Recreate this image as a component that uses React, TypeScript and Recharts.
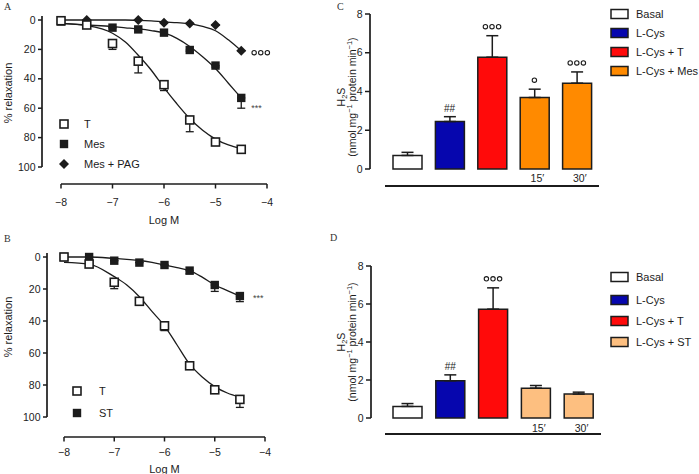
import React from "react";
import {
  ComposedChart,
  Line,
  Scatter,
  Bar,
  XAxis,
  YAxis,
  ErrorBar,
  Cell,
  Customized,
} from "recharts";

const INK = "#1c1c1c";
const SANS = "'Liberation Sans', Arial, sans-serif";
const SERIF = "'Liberation Serif', 'Times New Roman', serif";

// concentration-response (panels A and B)
const LOG_M = [-8, -7.5, -7, -6.5, -6, -5.5, -5, -4.5];
const FIT_X = [-8, -7.5, -7, -6.75, -6.5, -6.25, -6, -5.75, -5.5, -5.25, -5, -4.75, -4.5];
const X_TICKS = [-8, -7, -6, -5, -4];
const Y_TICKS = [0, 20, 40, 60, 80, 100];

const A_T = [0.5, 3.4, 16, 28, 44, 68, 83, 88];
const A_T_ERR = [0, 0, 4, 8, 4, 8, 2, 0];
const A_MES = [1, 3, 5.2, 6.4, 8.6, 20.4, 31, 53];
const A_MES_ERR = [0, 0, 0, 0, 0, 1, 1, 7];
const A_PAG = [null, 0, null, 0, 1.8, 2.3, 3.4, 20.9];
const A_T_FIT = [2.3, 3.8, 9, 15, 24, 34, 46, 57, 67, 75, 81, 85, 87.5];
const A_MES_FIT = [2.3, 3.4, 4.5, 5.3, 6.1, 7.2, 8.8, 12.5, 18, 25, 33, 43, 53];
const A_PAG_FIT = [0, 0, 0, 0, 0.2, 0.6, 1.3, 1.8, 2.5, 4.4, 7.3, 13.5, 21];

const B_T = [0, 4.4, 15.8, 27.7, 43, 68, 83, 89];
const B_T_ERR = [0, 0, 4, 0, 3, 1, 2, 5];
const B_ST = [0, 0, 2.3, 3.5, 5, 8.5, 17.5, 24.4];
const B_ST_ERR = [0, 0, 0, 0, 0, 2, 4, 3.5];
const B_T_FIT = [3.3, 4.4, 12.3, 17.5, 24.8, 34, 43, 55, 67, 75, 81, 85, 87.5];
const B_ST_FIT = [0, 0, 0.9, 1.5, 2.2, 3.4, 5, 6.6, 8.5, 12.6, 17.5, 21, 24.4];

// H2S production (panels C and D)
const BAR_KEYS = ["basal", "lcys", "lcysT", "drug15", "drug30"];
const BAR_TICKS = ["", "", "", "15\u2032", "30\u2032"];
const BAR_Y_TICKS = [0, 2, 4, 6, 8];

const C_VALUES = [0.7, 2.45, 5.77, 3.69, 4.43];
const C_ERR = [0.16, 0.25, 1.11, 0.43, 0.58];
const C_NOTES = ["", "##", "ooo", "o", "ooo"];
const C_COLORS = ["#ffffff", "#0606ae", "#ff0a0a", "#ff8a00", "#ff8a00"];
const C_LEGEND = ["Basal", "L-Cys", "L-Cys + T", "L-Cys + Mes"];

const D_VALUES = [0.61, 1.96, 5.73, 1.57, 1.26];
const D_ERR = [0.15, 0.31, 1.12, 0.14, 0.1];
const D_NOTES = ["", "##", "ooo", "", ""];
const D_COLORS = ["#ffffff", "#0606ae", "#ff0a0a", "#fdbf80", "#fdbf80"];
const D_LEGEND = ["Basal", "L-Cys", "L-Cys + T", "L-Cys + ST"];

type Geo = {
  w: number; h: number; left: number; top: number;
  px0: number; px1: number; py0: number; py1: number;
  yAxisX: number; xAxisY: number; xLabelY: number; titleY: number; yTitleY: number;
  tickLen: number; letter: string; letterX: number; letterY: number;
};

const GEO_A: Geo = {
  w: 300, h: 232, left: 0, top: 0, px0: 61, px1: 267, py0: 20, py1: 167,
  yAxisX: 42, xAxisY: 184, xLabelY: 202, titleY: 220, yTitleY: 93,
  tickLen: 4, letter: "A", letterX: 4, letterY: 10,
};
const GEO_B: Geo = {
  w: 300, h: 242, left: 0, top: 232, px0: 64, px1: 265, py0: 25, py1: 185,
  yAxisX: 47, xAxisY: 205, xLabelY: 220, titleY: 237, yTitleY: 95,
  tickLen: 4, letter: "B", letterX: 4, letterY: 10,
};
const GEO_C: Geo = {
  w: 399, h: 232, left: 300, top: 0, px0: 86, px1: 298, py0: 14, py1: 169,
  yAxisX: 70, xAxisY: 186, xLabelY: 178, titleY: 0, yTitleY: 97,
  tickLen: 5, letter: "C", letterX: 37, letterY: 10,
};
const GEO_D: Geo = {
  w: 399, h: 242, left: 300, top: 232, px0: 86, px1: 300, py0: 34, py1: 186,
  yAxisX: 71, xAxisY: 202, xLabelY: 196, titleY: 0, yTitleY: 110,
  tickLen: 5, letter: "D", letterX: 30, letterY: 9,
};

type Pt = { x: number; y: number; err: [number, number] };

function toPoints(xs: number[], ys: (number | null)[], errs?: number[]): Pt[] {
  const out: Pt[] = [];
  xs.forEach((x, i) => {
    const y = ys[i];
    if (y == null) return;
    out.push({ x, y, err: [0, errs ? errs[i] : 0] });
  });
  return out;
}

function OpenSquare({ cx, cy }: any) {
  return <rect x={cx - 4} y={cy - 4} width={8} height={8} fill="#fff" stroke={INK} strokeWidth={1.6} />;
}
function FilledSquare({ cx, cy }: any) {
  return <rect x={cx - 4.2} y={cy - 4.2} width={8.4} height={8.4} fill={INK} />;
}
function Diamond({ cx, cy }: any) {
  return <path d={`M${cx},${cy - 5}L${cx + 5},${cy}L${cx},${cy + 5}L${cx - 5},${cy}Z`} fill={INK} />;
}

function Circles({ cx, cy, n }: { cx: number; cy: number; n: number }) {
  return (
    <g>
      {Array.from({ length: n }, (_, i) => (
        <circle key={i} cx={cx + (i - (n - 1) / 2) * 6.6} cy={cy} r={2.2} fill="none" stroke={INK} strokeWidth={1.1} />
      ))}
    </g>
  );
}

function YTick({ y, payload, geo }: any) {
  return (
    <g>
      <line x1={geo.yAxisX - geo.tickLen} x2={geo.yAxisX} y1={y} y2={y} stroke={INK} strokeWidth={1.5} />
      <text x={geo.yAxisX - geo.tickLen - 2.5} y={y} dy="0.35em" textAnchor="end" fontSize={10.5} fontFamily={SANS} fill={INK}>
        {payload.value}
      </text>
    </g>
  );
}

function XTick({ x, payload, geo }: any) {
  const v = Number(payload.value);
  return (
    <g>
      <line x1={x} x2={x} y1={geo.xAxisY} y2={geo.xAxisY + 4.5} stroke={INK} strokeWidth={1.5} />
      <text x={x} y={geo.xLabelY} dy="0.35em" textAnchor="middle" fontSize={10.5} fontFamily={SANS} fill={INK}>
        {v < 0 ? `\u2212${-v}` : v}
      </text>
    </g>
  );
}

type CurveSeries = {
  name: string;
  ys: (number | null)[];
  errs?: number[];
  fit: number[];
  Marker: (p: any) => React.ReactElement;
};

function CurveDecor({ geo, series, legendX, textX, legendYs }: any) {
  return (
    <g>
      <line x1={geo.yAxisX} x2={geo.yAxisX} y1={geo.py0 - 4} y2={geo.py1} stroke={INK} strokeWidth={1.7} />
      <line x1={geo.px0} x2={geo.px1} y1={geo.xAxisY} y2={geo.xAxisY} stroke={INK} strokeWidth={1.7} />
      <text x={(geo.px0 + geo.px1) / 2} y={geo.titleY} dy="0.35em" textAnchor="middle" fontSize={11} fontFamily={SANS} fill={INK}>
        Log M
      </text>
      <text transform={`translate(8, ${geo.yTitleY}) rotate(-90)`} dy="0.35em" textAnchor="middle" fontSize={11} fontFamily={SANS} fill={INK}>
        % relaxation
      </text>
      <text x={geo.letterX} y={geo.letterY} fontSize={10} fontFamily={SERIF} fill="#333">{geo.letter}</text>
      {series.map((s: CurveSeries, i: number) => (
        <g key={s.name}>
          <s.Marker cx={legendX} cy={legendYs[i]} />
          <text x={textX} y={legendYs[i]} dy="0.35em" fontSize={11} fontFamily={SANS} fill={INK}>{s.name}</text>
        </g>
      ))}
    </g>
  );
}

function CurvePanel({ geo, series, notes, legendX, textX, legendYs }: any) {
  return (
    <div style={{ position: "absolute", left: geo.left, top: geo.top }}>
      <ComposedChart
        width={geo.w}
        height={geo.h}
        margin={{ top: geo.py0, right: geo.w - geo.px1, bottom: 0, left: 0 }}
      >
        <XAxis
          type="number"
          dataKey="x"
          domain={[-8, -4]}
          ticks={X_TICKS}
          axisLine={false}
          tickLine={false}
          height={geo.h - geo.py1}
          tick={<XTick geo={geo} />}
        />
        <YAxis
          type="number"
          dataKey="y"
          domain={[0, 100]}
          reversed
          ticks={Y_TICKS}
          axisLine={false}
          tickLine={false}
          width={geo.px0}
          tick={<YTick geo={geo} />}
        />
        {series.map((s: CurveSeries) => (
          <Line
            key={`fit-${s.name}`}
            data={FIT_X.map((x, i) => ({ x, y: s.fit[i] }))}
            dataKey="y"
            type="monotone"
            stroke={INK}
            strokeWidth={1.3}
            dot={false}
            activeDot={false}
            isAnimationActive={false}
          />
        ))}
        {[...series].reverse().map((s: CurveSeries) => (
          <Scatter
            key={`pts-${s.name}`}
            data={toPoints(LOG_M, s.ys, s.errs)}
            dataKey="y"
            shape={(p: any) => <s.Marker cx={p.cx} cy={p.cy} />}
            isAnimationActive={false}
          >
            <ErrorBar dataKey="err" direction="y" width={4} stroke={INK} strokeWidth={1.3} />
          </Scatter>
        ))}
        {notes.map((n: any, i: number) => (
          <Scatter
            key={`note-${i}`}
            data={[{ x: n.x, y: n.y }]}
            dataKey="y"
            isAnimationActive={false}
            shape={(p: any) =>
              n.text === "ooo" ? (
                <Circles cx={p.cx + 19.5} cy={p.cy + 2} n={3} />
              ) : (
                <text x={p.cx + n.dx} y={p.cy + n.dy} fontSize={9} fontFamily={SANS} fill="#444">{n.text}</text>
              )
            }
          />
        ))}
        <Customized
          component={<CurveDecor geo={geo} series={series} legendX={legendX} textX={textX} legendYs={legendYs} />}
        />
      </ComposedChart>
    </div>
  );
}

function BarXTick({ x, payload, geo }: any) {
  const label = BAR_TICKS[payload.index] ?? "";
  if (!label) return <g />;
  return (
    <text x={x + 3} y={geo.xLabelY} dy="0.35em" textAnchor="middle" fontSize={10.5} fontFamily={SANS} fill={INK}>
      {label}
    </text>
  );
}

function NoteMark(p: any) {
  const note = p.payload?.note;
  if (!note) return <g />;
  if (note === "##") {
    return (
      <text x={p.cx} y={p.cy - 4.5} textAnchor="middle" fontSize={10} fontFamily={SANS} fill={INK}>##</text>
    );
  }
  return <Circles cx={p.cx} cy={p.cy - 9} n={note.length} />;
}

function BarDecor({ geo, colors, labels, legendYs }: any) {
  return (
    <g>
      <line x1={geo.yAxisX} x2={geo.yAxisX} y1={geo.py0} y2={geo.py1} stroke={INK} strokeWidth={1.7} />
      <line x1={geo.px0 - 1} x2={geo.px1 + 1} y1={geo.xAxisY} y2={geo.xAxisY} stroke={INK} strokeWidth={2} />
      <text transform={`translate(41, ${geo.yTitleY}) rotate(-90)`} dy="0.35em" textAnchor="middle" fontSize={10.5} fontFamily={SANS} fill={INK}>
        H<tspan fontSize={7.5} dy={2.5}>2</tspan><tspan dy={-2.5}>S</tspan>
      </text>
      <text transform={`translate(52, ${geo.yTitleY}) rotate(-90)`} dy="0.35em" textAnchor="middle" fontSize={10.5} fontFamily={SANS} fill={INK}>
        (nmol mg<tspan fontSize={7.5} dy={-4}>{"\u22121"}</tspan>
        <tspan dy={4}> protein min</tspan>
        <tspan fontSize={7.5} dy={-4}>{"\u22121"}</tspan>
        <tspan dy={4}>)</tspan>
      </text>
      <text x={geo.letterX} y={geo.letterY} fontSize={10} fontFamily={SERIF} fill="#333">{geo.letter}</text>
      {labels.map((l: string, i: number) => (
        <g key={l}>
          <rect x={311} y={legendYs[i] - 4.5} width={17} height={9} fill={colors[i]} stroke={INK} strokeWidth={1.5} />
          <text x={336} y={legendYs[i]} dy="0.35em" fontSize={11} fontFamily={SANS} fill={INK}>{l}</text>
        </g>
      ))}
    </g>
  );
}

function BarPanel({ geo, values, errs, notes, colors, legend, legendYs }: any) {
  const rows = values.map((v: number, i: number) => ({
    name: BAR_KEYS[i],
    v,
    err: [0, errs[i]],
    top: v + errs[i],
    note: notes[i],
  }));
  const legendColors = [colors[0], colors[1], colors[2], colors[3]];
  return (
    <div style={{ position: "absolute", left: geo.left, top: geo.top }}>
      <ComposedChart
        width={geo.w}
        height={geo.h}
        data={rows}
        margin={{ top: geo.py0, right: geo.w - geo.px1, bottom: 0, left: 0 }}
      >
        <XAxis
          dataKey="name"
          type="category"
          axisLine={false}
          tickLine={false}
          interval={0}
          height={geo.h - geo.py1}
          tick={<BarXTick geo={geo} />}
        />
        <YAxis
          type="number"
          domain={[0, 8]}
          ticks={BAR_Y_TICKS}
          axisLine={false}
          tickLine={false}
          width={geo.px0}
          tick={<YTick geo={geo} />}
        />
        <Bar dataKey="v" barSize={29} stroke={INK} strokeWidth={1.5} isAnimationActive={false}>
          {colors.map((c: string, i: number) => (
            <Cell key={i} fill={c} />
          ))}
          <ErrorBar dataKey="err" direction="y" width={6} stroke={INK} strokeWidth={1.5} />
        </Bar>
        <Scatter dataKey="top" shape={NoteMark} isAnimationActive={false} />
        <Customized
          component={<BarDecor geo={geo} colors={legendColors} labels={legend} legendYs={legendYs} />}
        />
      </ComposedChart>
    </div>
  );
}

const SERIES_A: CurveSeries[] = [
  { name: "T", ys: A_T, errs: A_T_ERR, fit: A_T_FIT, Marker: OpenSquare },
  { name: "Mes", ys: A_MES, errs: A_MES_ERR, fit: A_MES_FIT, Marker: FilledSquare },
  { name: "Mes + PAG", ys: A_PAG, fit: A_PAG_FIT, Marker: Diamond },
];
const SERIES_B: CurveSeries[] = [
  { name: "T", ys: B_T, errs: B_T_ERR, fit: B_T_FIT, Marker: OpenSquare },
  { name: "ST", ys: B_ST, errs: B_ST_ERR, fit: B_ST_FIT, Marker: FilledSquare },
];
const NOTES_A = [
  { x: -4.5, y: A_PAG[7], text: "ooo" },
  { x: -4.5, y: A_MES[7], text: "***", dx: 10, dy: 13 },
];
const NOTES_B = [{ x: -4.5, y: B_ST[7], text: "***", dx: 13, dy: 5 }];

export default function App() {
  return (
    <div style={{ position: "absolute", left: 0, top: 0, width: 699, height: 474, background: "#fff", overflow: "hidden" }}>
      <CurvePanel geo={GEO_A} series={SERIES_A} notes={NOTES_A} legendX={64} textX={84} legendYs={[124, 144, 164]} />
      <CurvePanel geo={GEO_B} series={SERIES_B} notes={NOTES_B} legendX={77} textX={99} legendYs={[159, 181]} />
      <BarPanel geo={GEO_C} values={C_VALUES} errs={C_ERR} notes={C_NOTES} colors={C_COLORS} legend={C_LEGEND} legendYs={[14, 33, 52, 71]} />
      <BarPanel geo={GEO_D} values={D_VALUES} errs={D_ERR} notes={D_NOTES} colors={D_COLORS} legend={D_LEGEND} legendYs={[45, 68, 89, 110]} />
    </div>
  );
}
